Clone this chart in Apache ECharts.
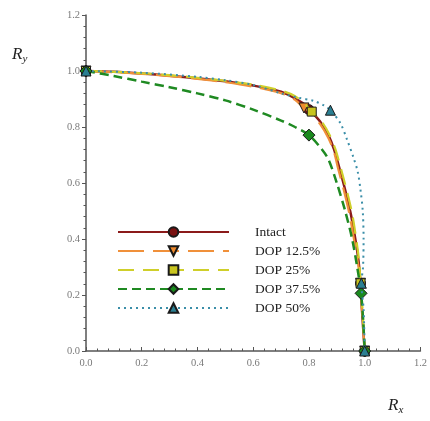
<!DOCTYPE html>
<html>
<head>
<meta charset="utf-8">
<script src="https://cdn.jsdelivr.net/npm/echarts@6/dist/echarts.min.js"></script>
<style>
  html, body { margin: 0; padding: 0; background: #fff; }
  #chart { width: 430px; height: 421px; }
</style>
</head>
<body>
<div id="chart"></div>
<script>
const seriesNames = ['Intact', 'DOP 12.5%', 'DOP 25%', 'DOP 37.5%', 'DOP 50%'];
const xTicks = [0, 0.2, 0.4, 0.6, 0.8, 1.0, 1.2];

// smooth curves (no markers)
const intactCurve = [[0,1],[0.1,0.997],[0.2,0.991],[0.3,0.983],[0.4,0.974],[0.5,0.963],[0.6,0.948],[0.7,0.926],[0.75,0.902],[0.8,0.864],[0.84,0.82],[0.87,0.77],[0.89,0.72],[0.91,0.65],[0.93,0.575],[0.95,0.49],[0.967,0.396],[0.978,0.32],[0.99,0.15],[1,0]];
const dop125Curve = [[0,1],[0.1,0.996],[0.2,0.99],[0.3,0.982],[0.4,0.972],[0.5,0.96],[0.6,0.944],[0.7,0.921],[0.75,0.897],[0.8,0.856],[0.84,0.81],[0.87,0.76],[0.89,0.71],[0.905,0.65],[0.925,0.575],[0.945,0.49],[0.962,0.396],[0.975,0.32],[0.99,0.15],[1,0]];
const dop25Curve = [[0,1],[0.1,0.997],[0.2,0.992],[0.3,0.985],[0.4,0.976],[0.5,0.965],[0.6,0.951],[0.7,0.93],[0.75,0.91],[0.8,0.868],[0.845,0.82],[0.875,0.77],[0.895,0.72],[0.915,0.65],[0.935,0.575],[0.955,0.49],[0.97,0.396],[0.98,0.32],[0.992,0.15],[1,0]];
const dop375Curve = [[0,1],[0.1,0.982],[0.2,0.962],[0.3,0.942],[0.4,0.92],[0.5,0.895],[0.6,0.862],[0.7,0.823],[0.75,0.8],[0.848,0.718],[0.871,0.682],[0.9,0.6],[0.93,0.5],[0.955,0.4],[0.973,0.3],[0.995,0.1],[1,0]];
const dop50Curve = [[0,1],[0.2,0.994],[0.4,0.979],[0.5,0.967],[0.6,0.95],[0.7,0.92],[0.76,0.905],[0.818,0.893],[0.854,0.877],[0.913,0.813],[0.937,0.754],[0.96,0.69],[0.975,0.64],[0.985,0.575],[0.993,0.5],[0.996,0.4],[0.994,0.3],[0.996,0.15],[1,0]];

// marker points
const intactMarks = [[0,1],[0.8,0.862],[0.985,0.242],[1,0]];
const dop125Marks = [[0,1],[0.782,0.868],[0.985,0.242],[1,0]];
const dop25Marks = [[0,1],[0.81,0.855],[0.985,0.242],[1,0]];
const dop375Marks = [[0,1],[0.8,0.771],[0.987,0.206],[1,0]];
const dop50Marks = [[0,1],[0.877,0.86],[0.988,0.242],[1,0]];

const curves = [intactCurve, dop125Curve, dop25Curve, dop375Curve, dop50Curve];
const marks = [intactMarks, dop125Marks, dop25Marks, dop375Marks, dop50Marks];

const styles = [
  { color: '#8b1a1a', width: 2.5, type: 'solid', symbol: 'circle', size: 10, rotate: 0, fill: '#7a1212' },
  { color: '#f0903a', width: 2.2, type: [26, 9], symbol: 'triangle', size: 10, rotate: 180, fill: '#ee8a2e' },
  { color: '#cfcf2a', width: 2.2, type: [16, 9], symbol: 'rect', size: 9, rotate: 0, fill: '#c8c41e' },
  { color: '#1f8a22', width: 2.5, type: [9, 5], symbol: 'diamond', size: 12, rotate: 0, fill: '#1a8a1e' },
  { color: '#3a8ea8', width: 2, type: [2, 4], symbol: 'triangle', size: 10, rotate: 0, fill: '#2a7f92' },
];

function buildData(curve, markPts) {
  const pts = curve.map(p => ({ value: p, symbol: 'none' }))
    .concat(markPts.map(p => ({ value: p })));
  return pts.sort((a, b) => b.value[1] - a.value[1]);
}

const chart = echarts.init(document.getElementById('chart'));

const axisFont = { fontFamily: 'Liberation Serif, serif', fontSize: 10.5, color: '#7a7a7a' };
const rich = {
  a: { fontFamily: 'Liberation Serif, serif', fontStyle: 'italic', fontSize: 17, fill: '#222' },
  b: { fontFamily: 'Liberation Serif, serif', fontStyle: 'italic', fontSize: 11, fill: '#222', padding: [10, 0, 0, 0] },
};

const option = {
  animation: false,
  grid: { left: 86, top: 15, right: 8, bottom: 70 },
  legend: {
    orient: 'vertical',
    left: 117,
    top: 224,
    padding: 0,
    itemWidth: 111,
    itemHeight: 12,
    itemGap: 3,
    data: seriesNames,
    textStyle: {
      fontFamily: 'Liberation Serif, serif',
      fontSize: 13.5,
      lineHeight: 16,
      color: '#222',
      padding: [0, 0, 0, 21],
    },
  },
  xAxis: {
    type: 'value',
    min: 0,
    max: 1.2,
    interval: 0.2,
    axisLine: { lineStyle: { color: '#555', width: 1.5 } },
    axisTick: { inside: true, length: 4, lineStyle: { color: '#555' } },
    minorTick: { show: true, splitNumber: 5, length: 2.5, lineStyle: { color: '#555' } },
    splitLine: { show: false },
    axisLabel: Object.assign({ margin: 7, formatter: v => v.toFixed(1) }, axisFont),
  },
  yAxis: {
    type: 'value',
    min: 0,
    max: 1.2,
    interval: 0.2,
    axisLine: { show: true, lineStyle: { color: '#555', width: 1.5 } },
    axisTick: { show: true, length: 4, lineStyle: { color: '#555' } },
    minorTick: { show: true, splitNumber: 5, length: 2.5, lineStyle: { color: '#555' } },
    splitLine: { show: false },
    axisLabel: Object.assign({ margin: 6, formatter: v => v.toFixed(1) }, axisFont),
  },
  graphic: [
    { type: 'text', left: 12, top: 46, style: { text: '{a|R}{b|y}', rich } },
    { type: 'text', left: 388, top: 397, style: { text: '{a|R}{b|x}', rich } },
  ],
  series: seriesNames.map((name, i) => {
    const s = styles[i];
    return {
      name,
      type: 'line',
      data: buildData(curves[i], marks[i]),
      symbol: s.symbol,
      symbolSize: s.size,
      symbolRotate: s.rotate,
      showAllSymbol: true,
      smooth: 0.3,
      lineStyle: { color: s.color, width: s.width, type: s.type },
      itemStyle: { color: s.fill, borderColor: '#1a1a1a', borderWidth: 1 },
      z: 2 + i,
    };
  }),
};

chart.setOption(option);
</script>
</body>
</html>
